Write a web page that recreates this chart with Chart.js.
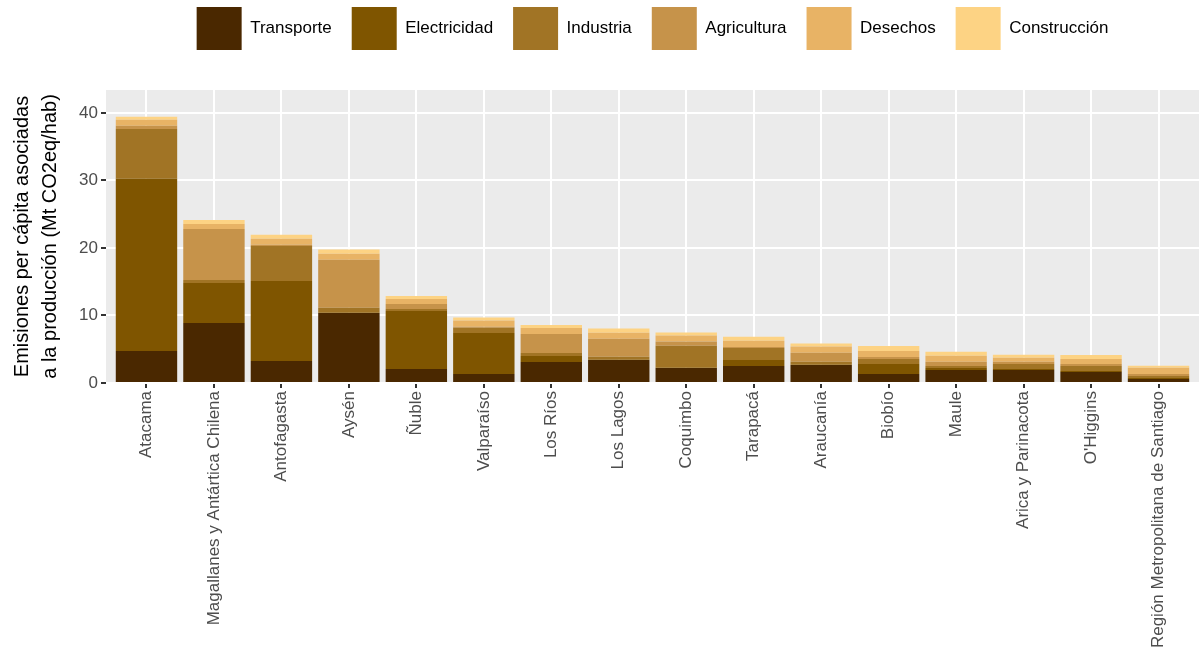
<!DOCTYPE html>
<html lang="es">
<head>
<meta charset="utf-8">
<title>Emisiones per cápita por región</title>
<script src="https://cdn.jsdelivr.net/npm/chart.js@4.4.1/dist/chart.umd.min.js"></script>
<style>
  html, body { margin: 0; padding: 0; background: #fff; }
  #wrap { width: 1199px; height: 657px; }
</style>
</head>
<body>
<div id="wrap"><canvas id="emisiones"></canvas></div>
<script>
// regiones, ordenadas de mayor a menor emisión total
const regiones = ['Atacama', 'Magallanes y Antártica Chilena', 'Antofagasta', 'Aysén', 'Ñuble',
  'Valparaíso', 'Los Ríos', 'Los Lagos', 'Coquimbo', 'Tarapacá', 'Araucanía', 'Biobío', 'Maule',
  'Arica y Parinacota', "O'Higgins", 'Región Metropolitana de Santiago'];

// Mt CO2eq/hab por sector
const transporte   = [4.74, 8.90, 3.26, 10.37, 2.07, 1.33, 3.10, 3.40, 2.22, 2.52, 2.67, 1.33, 1.93, 1.93, 1.63, 0.60];
const electricidad = [25.5, 5.90, 11.85, 0.05, 8.60, 6.07, 0.90, 0.05, 0.05, 0.90, 0.05, 1.48, 0.30, 0.15, 0.15, 0.15];
const industria    = [7.40, 0.44, 5.20, 0.74, 0.30, 0.80, 0.44, 0.44, 3.26, 1.78, 0.44, 0.74, 0.30, 0.75, 0.74, 0.30];
const agricultura  = [0.45, 7.56, 0.15, 7.10, 0.74, 0.15, 2.80, 2.67, 0.60, 0.15, 1.33, 0.30, 0.60, 0.30, 0.30, 0.30];
const desechos     = [0.90, 0.74, 0.90, 0.90, 0.74, 0.90, 0.90, 0.90, 0.90, 0.90, 0.90, 0.90, 0.90, 0.60, 0.74, 0.90];
const construccion = [0.45, 0.59, 0.60, 0.60, 0.45, 0.45, 0.45, 0.60, 0.45, 0.60, 0.45, 0.74, 0.60, 0.45, 0.60, 0.30];

const sectores = ['Transporte', 'Electricidad', 'Industria', 'Agricultura', 'Desechos', 'Construcción'];
const colores = ['#4A2800', '#7F5500', '#A17425', '#C6934A', '#E8B365', '#FDD384'];
const yTicks = [0, 10, 20, 30, 40];

const fuente = "'Liberation Sans', Arial, sans-serif";
Chart.defaults.font.family = fuente;

// fondo gris del panel (estilo ggplot)
const panelFondo = {
  id: 'panelFondo',
  beforeDraw(chart) {
    const { ctx, chartArea: a } = chart;
    ctx.save();
    ctx.fillStyle = '#EBEBEB';
    ctx.fillRect(a.left, a.top, a.right - a.left, a.bottom - a.top);
    ctx.restore();
  }
};

// deja espacio entre la leyenda y el panel
const legendaEspacio = {
  id: 'legendaEspacio',
  beforeInit(chart) {
    if (!chart.legend) return;
    const fit = chart.legend.fit;
    chart.legend.fit = function () {
      fit.call(this);
      this.height += 30;
    };
  }
};

const series = [transporte, electricidad, industria, agricultura, desechos, construccion];

const ctx = document.getElementById('emisiones').getContext('2d');
new Chart(ctx, {
  type: 'bar',
  data: {
    datasets: series.map((valores, i) => ({
      label: sectores[i],
      data: valores.map((v, j) => ({ x: j, y: v })),
      backgroundColor: colores[i],
      borderWidth: 0,
      categoryPercentage: 0.91,
      barPercentage: 1
    }))
  },
  options: {
    responsive: true,
    maintainAspectRatio: false,
    animation: false,
    layout: { padding: { top: -13, right: -5, bottom: 0, left: 0 } },
    plugins: {
      tooltip: { enabled: false },
      legend: {
        position: 'top',
        fullSize: false,
        labels: {
          boxWidth: 45,
          boxHeight: 43,
          padding: 20,
          color: '#000',
          font: { size: 17 }
        }
      }
    },
    scales: {
      x: {
        type: 'linear',
        stacked: true,
        offset: false,
        // mismo margen que ggplot en ejes discretos (0.6 de categoría)
        min: -0.6,
        max: regiones.length - 0.4,
        afterBuildTicks(scale) { scale.ticks = regiones.map((r, j) => ({ value: j })); },
        grid: { offset: false, color: '#FFFFFF', lineWidth: 2, tickColor: '#333333', tickLength: 5 },
        border: { display: false },
        ticks: {
          autoSkip: false,
          minRotation: 90,
          maxRotation: 90,
          padding: 3,
          color: '#4D4D4D',
          font: { size: 17 },
          callback: v => regiones[v]
        },
        afterFit(scale) { scale.height = 274; }
      },
      y: {
        stacked: true,
        min: 0,
        max: 43.4,
        afterBuildTicks(scale) { scale.ticks = yTicks.map(v => ({ value: v })); },
        grid: { color: '#FFFFFF', lineWidth: 2, tickColor: '#333333', tickLength: 5 },
        border: { display: false },
        ticks: { padding: 3, color: '#4D4D4D', font: { size: 17 } },
        title: {
          display: true,
          text: ['Emisiones per cápita asociadas', 'a la producción (Mt CO2eq/hab)'],
          color: '#000',
          font: { size: 20, lineHeight: 1.4 },
          padding: { top: 8, bottom: 0 }
        },
        afterFit(scale) { scale.width = 106; }
      }
    }
  },
  plugins: [panelFondo, legendaEspacio]
});
</script>
</body>
</html>
